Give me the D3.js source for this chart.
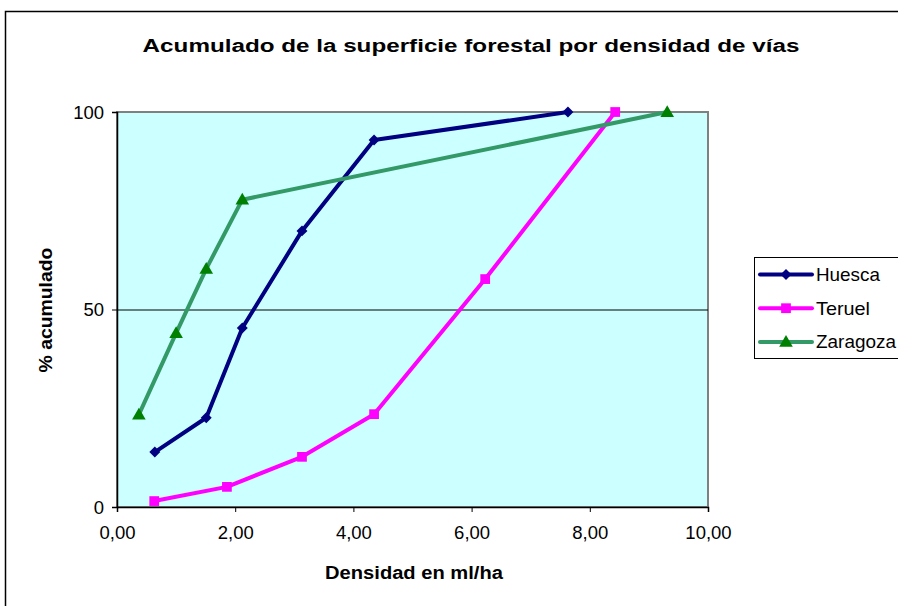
<!DOCTYPE html>
<html>
<head>
<meta charset="utf-8">
<script src="https://cdn.jsdelivr.net/npm/d3@7"></script>
<style>
  html, body { margin: 0; padding: 0; background: #fff; }
  svg { display: block; font-family: "Liberation Sans", Arial, sans-serif; }
</style>
</head>
<body>
<svg id="chart" width="898" height="606"></svg>
<script>
const title = "Acumulado de la superficie forestal por densidad de vías";
const xLabel = "Densidad en ml/ha";
const yLabel = "% acumulado";
const xTicks = [0, 2, 4, 6, 8, 10];
const yTicks = [0, 50, 100];
const seriesNames = ["Huesca", "Teruel", "Zaragoza"];

const huescaX = [0.64, 1.51, 2.12, 3.13, 4.35, 7.63];
const huescaY = [13.9, 22.6, 45.3, 69.9, 92.9, 100];
const teruelX = [0.63, 1.86, 3.13, 4.35, 6.23, 8.43];
const teruelY = [1.5, 5.1, 12.7, 23.5, 57.7, 100];
const zaragozaX = [0.37, 1.0, 1.51, 2.12, 9.31];
const zaragozaY = [23.4, 44.0, 60.3, 77.8, 100];

const svg = d3.select("#chart");
const L = 117, R = 708, T = 112, B = 507;
const x = d3.scaleLinear().domain([0, 10]).range([L, R]);
const y = d3.scaleLinear().domain([0, 100]).range([B, T]);

// stretch a text horizontally to a target width, centred on cx
function fitText(sel, cx, cy, width, rotate) {
  const w = sel.node().getComputedTextLength();
  const s = width / w;
  sel.attr("x", 0).attr("y", 0).attr("text-anchor", "middle")
    .attr("transform", `translate(${cx},${cy})${rotate ? " rotate(-90)" : ""} scale(${s},1)`);
}

// outer chart border
svg.append("rect").attr("x", 5.5).attr("y", 11.5).attr("width", 1000).attr("height", 1000)
  .attr("fill", "none").attr("stroke", "#000").attr("stroke-width", 1.5);

// plot area
svg.append("rect").attr("x", L).attr("y", T).attr("width", R - L).attr("height", B - T)
  .attr("fill", "#CCFFFF").attr("stroke", "#808080").attr("stroke-width", 2);

// gridline at 50
svg.append("g").selectAll("line").data(yTicks.filter(d => d > 0 && d < 100)).join("line")
  .attr("x1", L).attr("x2", R).attr("y1", d => y(d) + 0.5).attr("y2", d => y(d) + 0.5)
  .attr("stroke", "#000").attr("stroke-width", 1);

const fmt = d => d.toFixed(2).replace(".", ",");

// axes
const gx = svg.append("g").attr("transform", `translate(0,${B})`)
  .call(d3.axisBottom(x).tickValues(xTicks).tickFormat(fmt).tickSize(5).tickPadding(14));
const gy = svg.append("g").attr("transform", `translate(${L},0)`)
  .call(d3.axisLeft(y).tickValues(yTicks).tickFormat(d3.format("d")).tickSize(5).tickPadding(8));
[gx, gy].forEach(g => {
  g.selectAll("text").attr("font-size", 18.5).attr("font-family", "Liberation Sans, Arial, sans-serif").attr("fill", "#000");
  g.selectAll("line").attr("stroke", "#000");
  g.select(".domain").attr("stroke", "#000").attr("stroke-width", 1.5);
});
gy.selectAll("text").attr("dy", "0.35em");

// title & labels
fitText(svg.append("text").attr("font-size", 18.5).attr("font-weight", "bold").text(title), 471, 52, 657);
fitText(svg.append("text").attr("font-size", 18.5).attr("font-weight", "bold").text(xLabel), 414, 579, 178);
fitText(svg.append("text").attr("font-size", 18.5).attr("font-weight", "bold").text(yLabel), 52, 310, 125, true);

const diamond = { draw(ctx, size) { const r = Math.sqrt(size / 2); ctx.moveTo(0, -r); ctx.lineTo(r, 0); ctx.lineTo(0, r); ctx.lineTo(-r, 0); ctx.closePath(); } };

const series = [
  { name: seriesNames[0], xs: huescaX, ys: huescaY, line: "#000080", marker: "#000080", shape: diamond, size: 60, dy: 0 },
  { name: seriesNames[1], xs: teruelX, ys: teruelY, line: "#FF00FF", marker: "#FF00FF", shape: d3.symbolSquare, size: 95, dy: 0 },
  { name: seriesNames[2], xs: zaragozaX, ys: zaragozaY, line: "#339966", marker: "#008000", shape: d3.symbolTriangle, size: 80, dy: 1 }
];

const lineGen = d3.line().x(d => x(d[0])).y(d => y(d[1]));
series.forEach(s => {
  const pts = s.xs.map((v, i) => [v, s.ys[i]]);
  svg.append("path").datum(pts).attr("d", lineGen).attr("fill", "none")
    .attr("stroke", s.line).attr("stroke-width", 4).attr("stroke-linejoin", "round");
  svg.append("g").selectAll("path").data(pts).join("path")
    .attr("d", d3.symbol().type(s.shape).size(s.size))
    .attr("transform", d => `translate(${x(d[0])},${y(d[1]) + s.dy})`)
    .attr("fill", s.marker);
});

// legend
const lg = svg.append("g");
lg.append("rect").attr("x", 754.5).attr("y", 257.5).attr("width", 200).attr("height", 101)
  .attr("fill", "#fff").attr("stroke", "#000").attr("stroke-width", 1);
const legW = [64, 54, 80];
series.forEach((s, i) => {
  const yy = 274.5 + i * 33.7;
  lg.append("line").attr("x1", 760).attr("x2", 812).attr("y1", yy).attr("y2", yy)
    .attr("stroke", s.line).attr("stroke-width", 4).attr("stroke-linecap", "round");
  lg.append("path").attr("d", d3.symbol().type(s.shape).size(s.size))
    .attr("transform", `translate(786,${yy + s.dy})`).attr("fill", s.marker);
  const t = lg.append("text").attr("font-size", 17.5).text(s.name);
  const w = t.node().getComputedTextLength();
  t.attr("transform", `translate(816,${yy + 6.5}) scale(${legW[i] / w},1)`);
});
</script>
</body>
</html>
